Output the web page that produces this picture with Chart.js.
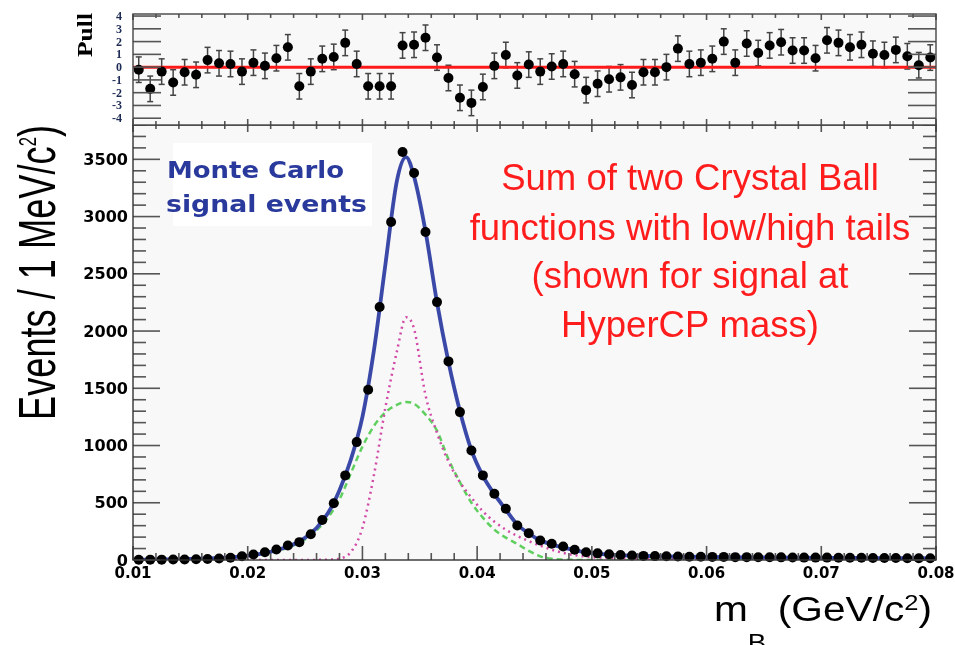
<!DOCTYPE html>
<html>
<head>
<meta charset="utf-8">
<title>Monte Carlo signal fit</title>
<script src="https://cdn.jsdelivr.net/npm/chart.js@4.4.1/dist/chart.umd.min.js"></script>
<style>
    body { margin: 0; background: #fff; }
    #wrap { position: relative; width: 955px; height: 645px; }
    #wrap canvas { position: absolute; left: 0; top: 0; }
</style>
</head>
<body>
<div id="wrap">
    <canvas id="mainChart" width="955" height="645"></canvas>
    <canvas id="pullChart" width="955" height="645"></canvas>
</div>
<script>
// ---- data ----
const binCenters = [
    0.0105, 0.0115, 0.0125, 0.0135, 0.0145, 0.0155, 0.0165, 0.0175, 0.0185, 0.0195,
    0.0205, 0.0215, 0.0225, 0.0235, 0.0245, 0.0255, 0.0265, 0.0275, 0.0285, 0.0295,
    0.0305, 0.0315, 0.0325, 0.0335, 0.0345, 0.0355, 0.0365, 0.0375, 0.0385, 0.0395,
    0.0405, 0.0415, 0.0425, 0.0435, 0.0445, 0.0455, 0.0465, 0.0475, 0.0485, 0.0495,
    0.0505, 0.0515, 0.0525, 0.0535, 0.0545, 0.0555, 0.0565, 0.0575, 0.0585, 0.0595,
    0.0605, 0.0615, 0.0625, 0.0635, 0.0645, 0.0655, 0.0665, 0.0675, 0.0685, 0.0695,
    0.0705, 0.0715, 0.0725, 0.0735, 0.0745, 0.0755, 0.0765, 0.0775, 0.0785, 0.0795
];
const mcEvents = [
    2, 3, 3, 4, 5, 7, 9, 13, 20, 33,
    48, 68, 92, 127, 156, 225, 349, 496, 739, 1030,
    1488, 2210, 2952, 3564, 3381, 2865, 2253, 1735, 1292, 957,
    739, 579, 447, 302, 234, 170, 142, 118, 89, 68,
    58, 50, 44, 40, 36, 34, 32, 31, 29, 28,
    27, 27, 25, 25, 24, 24, 23, 22, 21, 21,
    21, 20, 19, 19, 18, 18, 17, 16, 15, 15
];
const pulls = [
    -0.2, -1.7, -0.35, -1.2, -0.4, -0.6, 0.55, 0.3, 0.25, -0.35,
    0.35, 0.1, 0.7, 1.55, -1.5, -0.35, 0.65, 0.8, 1.9, 0.25,
    -1.5, -1.5, -1.5, 1.7, 1.75, 2.3, 0.75, -0.85, -2.4, -2.8,
    -1.55, 0.1, 0.95, -0.65, 0.2, -0.35, 0.05, 0.25, -0.55, -1.8,
    -1.3, -0.95, -0.8, -1.4, -0.4, -0.4, 0.0, 1.45, 0.25, 0.35,
    0.65, 2.0, 0.35, 1.85, 1.1, 1.7, 1.95, 1.3, 1.3, 0.7,
    2.1, 1.9, 1.55, 1.75, 1.05, 0.95, 1.35, 0.85, 0.15, 0.75
];
const pullError = 1;

// fitted curves, sampled where they were read
const curveX = [
    0.010, 0.012, 0.014, 0.016, 0.018, 0.020, 0.021, 0.022, 0.023, 0.024,
    0.025, 0.026, 0.027, 0.028, 0.029, 0.030, 0.031, 0.032, 0.033, 0.0338,
    0.0345, 0.0355, 0.0365, 0.0375, 0.0385, 0.0395, 0.0405, 0.0415, 0.0425, 0.0435,
    0.0445, 0.0455, 0.0465, 0.0475, 0.0485, 0.050, 0.052, 0.054, 0.056, 0.060,
    0.065, 0.070, 0.075, 0.080
];
const fitTotal = [
    2, 4, 6, 11, 20, 38, 52, 72, 100, 138,
    195, 280, 410, 610, 880, 1250, 1830, 2580, 3310, 3520,
    3350, 2870, 2250, 1730, 1300, 960, 735, 575, 440, 310,
    232, 172, 135, 108, 86, 60, 45, 37, 32, 26,
    22, 19, 17, 15
];
const cbNarrow = [
    0, 0, 0, 0, 0, 0, 0, 0, 0, 0,
    0, 1, 3, 12, 70, 280, 740, 1330, 1820, 2120,
    2020, 1440, 1110, 860, 680, 545, 425, 335, 265, 210,
    165, 125, 90, 62, 42, 25, 16, 12, 10, 9,
    8, 7, 6, 6
];
const cbWide = [
    3, 5, 7, 12, 20, 36, 48, 66, 92, 128,
    180, 260, 370, 530, 760, 990, 1170, 1290, 1355, 1380,
    1365, 1270, 1130, 880, 680, 500, 370, 265, 195, 140,
    80, 32, 10, 3, 1, 0, 0, 0, 0, 0,
    0, 0, 0, 0
];
const zeroLine = [0.01, 0.08];

// axes
const xTicks = [0.01, 0.02, 0.03, 0.04, 0.05, 0.06, 0.07, 0.08];
const xTickLabels = ['0.01', '0.02', '0.03', '0.04', '0.05', '0.06', '0.07', '0.08'];
const yTicks = [0, 500, 1000, 1500, 2000, 2500, 3000, 3500];
const pullTicks = [4, 3, 2, 1, 0, -1, -2, -3, -4];

const annotationLines = ['Sum of two Crystal Ball', 'functions with low/high tails', '(shown for signal at', 'HyperCP mass)'];
const mcLines = ['Monte Carlo', 'signal events'];

// frame geometry (px)
const F = { left: 133, right: 936, pullTop: 14, split: 125, bottom: 560, W: 955, H: 645 };
const SANS = '"Liberation Sans", Arial, Helvetica, sans-serif';
const BOLD_SANS = '"DejaVu Sans", "Liberation Sans", sans-serif';

// draw text made of segments; optional stretch to a target width
function drawText(ctx, segs, x, y, o) {
    if (typeof segs === 'string') segs = [{ t: segs }];
    const fam = o.family || SANS;
    const wt = o.weight || 'normal';
    ctx.save();
    let total = 0;
    const widths = segs.map(s => {
        ctx.font = `${wt} ${s.size || o.size}px ${fam}`;
        const w = ctx.measureText(s.t).width;
        total += w;
        return w;
    });
    const sx = o.width ? o.width / total : (o.sx || 1);
    ctx.translate(x, y);
    if (o.rotate) ctx.rotate(o.rotate);
    ctx.scale(sx, 1);
    let cx = o.align === 'center' ? -total / 2 : o.align === 'right' ? -total : 0;
    ctx.fillStyle = o.color || '#000';
    ctx.textBaseline = 'alphabetic';
    ctx.textAlign = 'left';
    segs.forEach((s, i) => {
        ctx.font = `${wt} ${s.size || o.size}px ${fam}`;
        ctx.fillText(s.t, cx, s.dy || 0);
        cx += widths[i];
    });
    ctx.restore();
}

function seg(ctx, x1, y1, x2, y2) {
    ctx.beginPath();
    ctx.moveTo(x1, y1);
    ctx.lineTo(x2, y2);
    ctx.stroke();
}

function xMinorTicks(ctx, xs, yBase, dir, majLen, minLen) {
    // one tick every 2 MeV, longer at every 10 MeV
    for (let i = 0; i <= 35; i++) {
        const px = xs.getPixelForValue(0.01 + i * 0.002);
        const len = i % 5 === 0 ? majLen : minLen;
        seg(ctx, px, yBase, px, yBase + dir * len);
    }
}

const mainDecor = {
    id: 'mainDecor',
    beforeDatasetsDraw(chart) {
        const { ctx, chartArea: a } = chart;
        ctx.save();
        ctx.fillStyle = '#f8f8f8';
        ctx.fillRect(a.left, a.top, a.right - a.left, a.bottom - a.top);
        ctx.fillStyle = '#ffffff';
        ctx.fillRect(173, 143, 199, 83);
        ctx.restore();
    },
    afterDatasetsDraw(chart) {
        const { ctx, chartArea: a, scales: { x, y } } = chart;
        ctx.save();
        // ticks
        ctx.strokeStyle = '#555';
        ctx.lineWidth = 1.6;
        for (let v = 0; v <= y.max; v += 100) {
            const py = y.getPixelForValue(v);
            const len = v % 500 === 0 ? 27 : 13;
            seg(ctx, a.left, py, a.left + len, py);
            seg(ctx, a.right, py, a.right - len, py);
        }
        xMinorTicks(ctx, x, a.bottom, -1, 14, 7);
        xMinorTicks(ctx, x, a.top, 1, 7, 4);
        // frame
        ctx.strokeStyle = '#333';
        ctx.lineWidth = 1.4;
        ctx.strokeRect(a.left, a.top, a.right - a.left, a.bottom - a.top);

        // tick labels
        yTicks.forEach(v => drawText(ctx, String(v), a.left - 5, y.getPixelForValue(v) + 5.5,
            { size: 15, weight: 'bold', family: BOLD_SANS, align: 'right', sx: 1.07 }));
        xTicks.forEach((v, i) => drawText(ctx, xTickLabels[i], x.getPixelForValue(v), 577.5,
            { size: 15, weight: 'bold', family: BOLD_SANS, align: 'center' }));

        // axis titles
        drawText(ctx, [
            { t: 'Events / 1 MeV/c', size: 52 },
            { t: '2', size: 24, dy: -19 },
            { t: ')', size: 52 }
        ], 55, 420, { rotate: -Math.PI / 2, width: 295 });
        drawText(ctx, [
            { t: 'm', size: 35 },
            { t: 'B', size: 24, dy: 30 },
            { t: ' (GeV/c', size: 35 },
            { t: '2', size: 22, dy: -11 },
            { t: ')', size: 35 }
        ], 714, 621, { width: 218 });

        // in-plot texts
        drawText(ctx, mcLines[0], 167, 178, { size: 23, weight: 'bold', family: BOLD_SANS, color: '#2a3a9c', width: 177 });
        drawText(ctx, mcLines[1], 166, 212, { size: 23, weight: 'bold', family: BOLD_SANS, color: '#2a3a9c', width: 201 });
        const base = [190, 240, 288, 337];
        annotationLines.forEach((t, i) => drawText(ctx, t, 690, base[i],
            { size: 36, color: '#ff1c1c', align: 'center', sx: 1.015 }));
        ctx.restore();
    }
};

const pullDecor = {
    id: 'pullDecor',
    beforeDatasetsDraw(chart) {
        const { ctx, chartArea: a, scales: { x, y } } = chart;
        ctx.save();
        ctx.fillStyle = '#f8f8f8';
        ctx.fillRect(a.left, a.top, a.right - a.left, a.bottom - a.top);
        // error bars
        ctx.strokeStyle = '#444';
        ctx.lineWidth = 1.5;
        binCenters.forEach((c, i) => {
            const px = x.getPixelForValue(c);
            const lo = y.getPixelForValue(pulls[i] - pullError);
            const hi = y.getPixelForValue(pulls[i] + pullError);
            seg(ctx, px, lo, px, hi);
            seg(ctx, px - 3, lo, px + 3, lo);
            seg(ctx, px - 3, hi, px + 3, hi);
        });
        ctx.restore();
    },
    afterDatasetsDraw(chart) {
        const { ctx, chartArea: a, scales: { x, y } } = chart;
        ctx.save();
        ctx.strokeStyle = '#555';
        ctx.lineWidth = 1.6;
        pullTicks.forEach(v => {
            const py = y.getPixelForValue(v);
            seg(ctx, a.left, py, a.left + 28, py);
            seg(ctx, a.right, py, a.right - 28, py);
        });
        xMinorTicks(ctx, x, a.bottom, -1, 6, 4);
        xMinorTicks(ctx, x, a.top, 1, 6, 4);
        ctx.strokeStyle = '#444';
        ctx.lineWidth = 1.4;
        ctx.strokeRect(a.left, a.top, a.right - a.left, a.bottom - a.top);

        pullTicks.forEach(v => drawText(ctx, String(v), a.left - 11, y.getPixelForValue(v) + 4,
            { size: 12, weight: 'bold', family: '"Liberation Serif", serif', color: '#1d2b55', align: 'right' }));
        drawText(ctx, 'Pull', 92, 57, { size: 20, weight: 'bold', family: '"Liberation Serif", serif',
            rotate: -Math.PI / 2, width: 44 });
        ctx.restore();
    }
};

const pts = (xs, ys) => xs.map((v, i) => ({ x: v, y: ys[i] }));

const lineSet = (label, ys, color, width, dash) => ({
    label,
    data: pts(curveX, ys),
    showLine: true,
    pointRadius: 0,
    borderColor: color,
    borderWidth: width,
    borderDash: dash,
    cubicInterpolationMode: 'monotone'
});

const hiddenAxis = (min, max, fit) => ({
    type: 'linear', min, max,
    grid: { display: false }, border: { display: false },
    ticks: { display: false },
    afterFit: fit
});

new Chart(document.getElementById('mainChart'), {
    type: 'scatter',
    data: {
        datasets: [
            {
                label: 'Monte Carlo signal events',
                data: pts(binCenters, mcEvents),
                pointRadius: 5,
                pointBackgroundColor: '#000',
                pointBorderWidth: 0,
                showLine: false,
                clip: 8
            },
            lineSet('Sum of two Crystal Ball functions', fitTotal, '#3a48a8', 3.8, []),
            lineSet('Crystal Ball 1', cbNarrow, '#d24aa8', 2.5, [2, 4]),
            lineSet('Crystal Ball 2', cbWide, '#5fcf5f', 2.5, [6, 4])
        ]
    },
    options: {
        responsive: false,
        animation: false,
        devicePixelRatio: 1,
        layout: { padding: { left: 0, right: F.W - F.right, top: F.split, bottom: 0 } },
        plugins: { legend: { display: false }, tooltip: { enabled: false } },
        scales: {
            x: hiddenAxis(0.01, 0.08, s => { s.height = F.H - F.bottom; }),
            y: hiddenAxis(0, 3800, s => { s.width = F.left; })
        }
    },
    plugins: [mainDecor]
});

new Chart(document.getElementById('pullChart'), {
    type: 'scatter',
    data: {
        datasets: [
            {
                label: 'Pull',
                data: pts(binCenters, pulls),
                pointRadius: 5,
                pointBackgroundColor: '#000',
                pointBorderWidth: 0,
                clip: 8
            },
            {
                label: 'zero',
                data: zeroLine.map(v => ({ x: v, y: 0 })),
                showLine: true,
                pointRadius: 0,
                borderColor: '#ff1a1a',
                borderWidth: 3
            }
        ]
    },
    options: {
        responsive: false,
        animation: false,
        devicePixelRatio: 1,
        layout: { padding: { left: 0, right: F.W - F.right, top: F.pullTop, bottom: 0 } },
        plugins: { legend: { display: false }, tooltip: { enabled: false } },
        scales: {
            x: hiddenAxis(0.01, 0.08, s => { s.height = F.H - F.split; }),
            y: hiddenAxis(-4.53, 4.16, s => { s.width = F.left; })
        }
    },
    plugins: [pullDecor]
});
</script>
</body>
</html>
